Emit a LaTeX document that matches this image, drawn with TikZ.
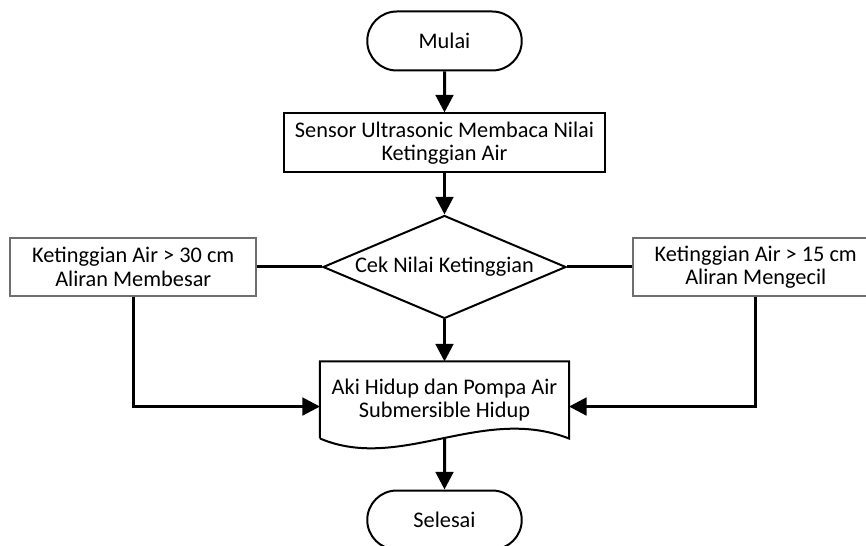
\documentclass[tikz,border=0pt]{standalone}
\usepackage{fontspec}
\setmainfont{Carlito}
\usepackage{xcolor}
\usepackage{tikz}
\usetikzlibrary{arrows.meta,calc,positioning,shapes.geometric,shapes.misc}
\definecolor{alirmuted}{HTML}{6E6E6E}
\tikzset{%
  alirbox/.style={%
    draw=black,
    fill=white,
    line width=0.4mm,
    minimum height=11.8mm,
    inner sep=1pt,
    align=center,
    font=\fontsize{12.7}{13.4}\selectfont
  },
  alirterminal/.style={alirbox,rounded rectangle,minimum width=31.6mm},
  alirside/.style={%
    alirbox,
    draw=alirmuted,
    line width=0.3mm,
    minimum width=49.2mm,
    minimum height=11.6mm
  },
  alirdecision/.style={%
    alirbox,
    diamond,
    aspect=2.36,
    minimum width=48.6mm,
    minimum height=20.6mm,
    inner sep=0pt
  },
  alirdoc/.style={alirbox,draw=none,fill=none,minimum width=49.4mm,minimum height=15mm},
  alirarrow/.style={-{Triangle[length=3.5mm,width=3.5mm]},line width=0.6mm,draw=black},
  alirline/.style={line width=0.6mm,draw=black}
}

\begin{document}
\begin{tikzpicture}[node distance=8.2mm and 13mm]
    \useasboundingbox (-88.9mm,8.2mm) rectangle (84.3mm,-101mm);
    \node[alirterminal] (mulai) at (0,0) {Mulai};
    \node[alirbox,minimum width=64.2mm,below=of mulai] (sensor) {Sensor Ultrasonic Membaca Nilai\\Ketinggian Air};
    \node[alirdecision,below=of sensor] (cek) {Cek Nilai Ketinggian};
    \node[alirside,left=of cek] (lbox) {Ketinggian Air > 30 cm\\Aliran Membesar};
    \node[alirside,right=of cek] (rbox) {Ketinggian Air > 15 cm\\Aliran Mengecil};
    \node[alirdoc,below=8.4mm of cek] (aksi) {Aki Hidup dan Pompa Air\\Submersible Hidup};
    \node[alirterminal,below=10.2mm of aksi] (selesai) {Selesai};

    % bentuk dokumen
    \draw[line width=0.4mm,fill=white] (aksi.south west) -- (aksi.north west) -- (aksi.north east) -- (aksi.south east)
      .. controls ($(aksi.south east)+(-17.4mm,6.8mm)$) and ($(aksi.south west)+(16mm,-6.8mm)$) .. (aksi.south west);
    \node[alirdoc] at (aksi) {Aki Hidup dan Pompa Air\\Submersible Hidup};

    \draw[alirarrow] (mulai) -- (sensor);
    \draw[alirarrow] (sensor) -- (cek);
    \draw[alirline] (cek) -- (lbox);
    \draw[alirline] (cek) -- (rbox);
    \draw[alirarrow] (cek) -- (aksi);
    \draw[alirarrow] (lbox.south) |- (aksi.183);
    \draw[alirarrow] (rbox.south) |- (aksi.357);
    \draw[alirarrow] (aksi) -- (selesai);
  \end{tikzpicture}
\end{document}
